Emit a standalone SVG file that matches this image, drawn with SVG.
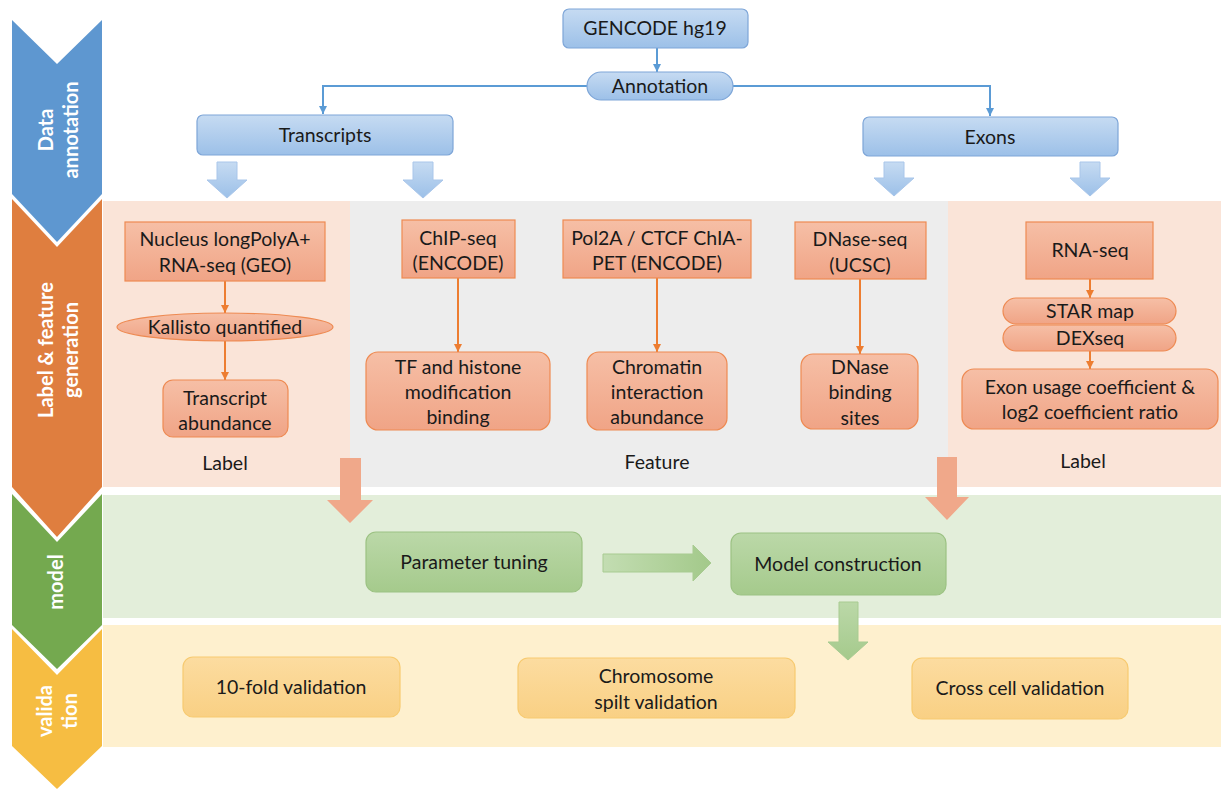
<svg xmlns="http://www.w3.org/2000/svg" width="1221" height="789" viewBox="0 0 1221 789">
<defs>
<linearGradient id="gBlue" x1="0" y1="0" x2="0" y2="1"><stop offset="0" stop-color="#C6DBF2"/><stop offset="1" stop-color="#9CC0E8"/></linearGradient>
<linearGradient id="gOrange" x1="0" y1="0" x2="0" y2="1"><stop offset="0" stop-color="#F6BFA6"/><stop offset="1" stop-color="#F0A486"/></linearGradient>
<linearGradient id="gGreen" x1="0" y1="0" x2="0" y2="1"><stop offset="0" stop-color="#BBD8A8"/><stop offset="1" stop-color="#A5CA8C"/></linearGradient>
<linearGradient id="gYellow" x1="0" y1="0" x2="0" y2="1"><stop offset="0" stop-color="#FCDCA0"/><stop offset="1" stop-color="#F9D084"/></linearGradient>
<linearGradient id="gGreenH" x1="0" y1="0" x2="1" y2="0"><stop offset="0" stop-color="#C3DDB2"/><stop offset="1" stop-color="#A3C98A"/></linearGradient>
<marker id="mBlue" viewBox="0 0 10 10" refX="10" refY="5" markerWidth="8" markerHeight="8" markerUnits="userSpaceOnUse" orient="auto"><path d="M0,0 L10,5 L0,10 Z" fill="#5B9BD5"/></marker>
<marker id="mOrange" viewBox="0 0 10 10" refX="10" refY="5" markerWidth="8" markerHeight="8" markerUnits="userSpaceOnUse" orient="auto"><path d="M0,0 L10,5 L0,10 Z" fill="#ED7D31"/></marker>
<style>
text{font-family:Lato,"Open Sans","Liberation Sans",sans-serif;font-size:19.5px;fill:#1a1a1a;text-anchor:middle}
.chev{font-weight:bold;fill:#ffffff;font-size:20px}
.bnode{fill:url(#gBlue);stroke:#7EA6D8;stroke-width:1.2}
.onode{fill:url(#gOrange);stroke:#EE8A52;stroke-width:1.2}
.gnode{fill:url(#gGreen);stroke:#9CC283;stroke-width:1.2}
.ynode{fill:url(#gYellow);stroke:#F7CA70;stroke-width:1.2}
.barrow{fill:url(#gBlue);stroke:#A9C6EA;stroke-width:1}
.oarrow{fill:#F0A88A}
.garrow{fill:url(#gGreen);stroke:#A8CB91;stroke-width:1}
.bline{fill:none;stroke:#5B9BD5;stroke-width:2;marker-end:url(#mBlue)}
.oline{fill:none;stroke:#ED7D31;stroke-width:2;marker-end:url(#mOrange)}
</style>
</defs>
<g id="background">
<rect x="103" y="201" width="247" height="286" fill="#FAE4D8"/>
<rect x="350" y="201" width="598" height="286" fill="#EDEDED"/>
<rect x="948" y="201" width="273" height="286" fill="#FAE4D8"/>
<rect x="103" y="495" width="1118" height="123" fill="#E3EEDA"/>
<rect x="103" y="625" width="1118" height="122" fill="#FEF0CE"/>
</g>
<g id="chevron-data">
<path d="M12,20 L57,64 L102,20 L102,194 L57,242 L12,194 Z" fill="#5E97D0"/>
<text class="chev" transform="translate(57,130) rotate(-90)"><tspan x="0" y="-4">Data</tspan><tspan x="0" y="21">annotation</tspan></text>
</g>
<g id="chevron-label">
<path d="M12,199 L57,247 L102,199 L102,487 L57,537 L12,487 Z" fill="#DF7E3F"/>
<text class="chev" transform="translate(57,350) rotate(-90)"><tspan x="0" y="-4">Label &amp; feature</tspan><tspan x="0" y="21">generation</tspan></text>
</g>
<g id="chevron-model">
<path d="M12,494 L57,542 L102,494 L102,625 L57,669 L12,625 Z" fill="#74A94F"/>
<text class="chev" transform="translate(57,582) rotate(-90)"><tspan x="0" y="6">model</tspan></text>
</g>
<g id="chevron-validation">
<path d="M12,629 L57,675 L102,629 L102,746 L57,789 L12,746 Z" fill="#F6BD42"/>
<text class="chev" transform="translate(57,711) rotate(-90)"><tspan x="0" y="-5">valida</tspan><tspan x="0" y="20">tion</tspan></text>
</g>
<g id="connectors">
<path class="bline" d="M657,48 L657,72"/>
<path class="bline" d="M587,86 L323,86 L323,114"/>
<path class="bline" d="M733,86 L990,86 L990,116"/>
<path class="oline" d="M225,281 L225,313"/>
<path class="oline" d="M225,341 L225,380"/>
<path class="oline" d="M458,278 L458,352"/>
<path class="oline" d="M657,278 L657,352"/>
<path class="oline" d="M860,279 L860,354"/>
<path class="oline" d="M1090,279 L1090,298"/>
<path class="oline" d="M1090,351 L1090,369"/>
<path class="barrow" d="M217,162 L237,162 L237,180 L247,180 L227,198 L207,180 L217,180 Z"/>
<path class="barrow" d="M413,162 L433,162 L433,180 L443,180 L423,198 L403,180 L413,180 Z"/>
<path class="barrow" d="M884,162 L904,162 L904,178 L914,178 L894,196 L874,178 L884,178 Z"/>
<path class="barrow" d="M1080,162 L1100,162 L1100,178 L1110,178 L1090,196 L1070,178 L1080,178 Z"/>
<path class="oarrow" d="M340,458 L361,458 L361,500 L373,500 L350,523 L327,500 L340,500 Z"/>
<path class="oarrow" d="M937,457 L957,457 L957,497 L969,497 L947,520 L925,497 L937,497 Z"/>
<path class="garrow" style="fill:url(#gGreenH)" d="M603,554 L693,554 L693,545 L711,563 L693,581 L693,572 L603,572 Z"/>
<path class="garrow" d="M839,602 L858,602 L858,642 L868,642 L848,660 L828,642 L839,642 Z"/>
</g>
<g id="gencode">
<rect class="bnode" x="563" y="9" width="185" height="39" rx="6"/>
<text x="655" y="35">GENCODE hg19</text>
</g>
<g id="annotation">
<rect class="bnode" x="587" y="72" width="146" height="28" rx="14"/>
<text x="660" y="93">Annotation</text>
</g>
<g id="transcripts">
<rect class="bnode" x="197" y="115" width="256" height="40" rx="6"/>
<text x="325" y="142">Transcripts</text>
</g>
<g id="exons">
<rect class="bnode" x="863" y="117" width="255" height="39" rx="6"/>
<text x="990" y="144">Exons</text>
</g>
<g id="nucleus">
<rect class="onode" x="125" y="222" width="200" height="59"/>
<text x="225" y="246">Nucleus longPolyA+</text>
<text x="225" y="272">RNA-seq (GEO)</text>
</g>
<g id="kallisto">
<ellipse class="onode" cx="225" cy="327" rx="108" ry="14"/>
<text x="225" y="334">Kallisto quantified</text>
</g>
<g id="transcript-abundance">
<rect class="onode" x="163" y="380" width="125" height="57" rx="10"/>
<text x="225" y="405">Transcript</text>
<text x="225" y="430">abundance</text>
</g>
<g id="label-left"><text x="225" y="470">Label</text></g>
<g id="chipseq">
<rect class="onode" x="402" y="220" width="113" height="58"/>
<text x="458" y="245">ChIP-seq</text>
<text x="458" y="270">(ENCODE)</text>
</g>
<g id="tf-histone">
<rect class="onode" x="366" y="352" width="184" height="78" rx="12"/>
<text x="458" y="374">TF and histone</text>
<text x="458" y="399">modification</text>
<text x="458" y="424">binding</text>
</g>
<g id="pol2a">
<rect class="onode" x="563" y="220" width="188" height="58"/>
<text x="657" y="245">Pol2A / CTCF ChIA-</text>
<text x="657" y="270">PET (ENCODE)</text>
</g>
<g id="chromatin">
<rect class="onode" x="587" y="352" width="140" height="78" rx="12"/>
<text x="657" y="374">Chromatin</text>
<text x="657" y="399">interaction</text>
<text x="657" y="424">abundance</text>
</g>
<g id="feature-label"><text x="657" y="469">Feature</text></g>
<g id="dnaseseq">
<rect class="onode" x="795" y="222" width="131" height="57"/>
<text x="860" y="246">DNase-seq</text>
<text x="860" y="272">(UCSC)</text>
</g>
<g id="dnase-sites">
<rect class="onode" x="801" y="354" width="117" height="75" rx="12"/>
<text x="860" y="374">DNase</text>
<text x="860" y="399">binding</text>
<text x="860" y="425">sites</text>
</g>
<g id="rnaseq">
<rect class="onode" x="1026" y="222" width="127" height="57"/>
<text x="1090" y="257">RNA-seq</text>
</g>
<g id="starmap">
<rect class="onode" x="1003" y="298" width="173" height="26" rx="13"/>
<text x="1090" y="318">STAR map</text>
</g>
<g id="dexseq">
<rect class="onode" x="1003" y="325" width="173" height="26" rx="13"/>
<text x="1090" y="345">DEXseq</text>
</g>
<g id="exon-usage">
<rect class="onode" x="962" y="369" width="256" height="60" rx="12"/>
<text x="1090" y="394">Exon usage coefficient &amp;</text>
<text x="1090" y="419">log2 coefficient ratio</text>
</g>
<g id="label-right"><text x="1083" y="468">Label</text></g>
<g id="parameter-tuning">
<rect class="gnode" x="366" y="532" width="216" height="60" rx="10"/>
<text x="474" y="569">Parameter tuning</text>
</g>
<g id="model-construction">
<rect class="gnode" x="731" y="533" width="215" height="62" rx="10"/>
<text x="838" y="571">Model construction</text>
</g>
<g id="tenfold">
<rect class="ynode" x="183" y="657" width="217" height="60" rx="10"/>
<text x="291" y="694">10-fold validation</text>
</g>
<g id="chromosome">
<rect class="ynode" x="518" y="658" width="277" height="60" rx="10"/>
<text x="656" y="683">Chromosome</text>
<text x="656" y="709">spilt validation</text>
</g>
<g id="crosscell">
<rect class="ynode" x="912" y="658" width="216" height="61" rx="10"/>
<text x="1020" y="695">Cross cell validation</text>
</g>
</svg>
